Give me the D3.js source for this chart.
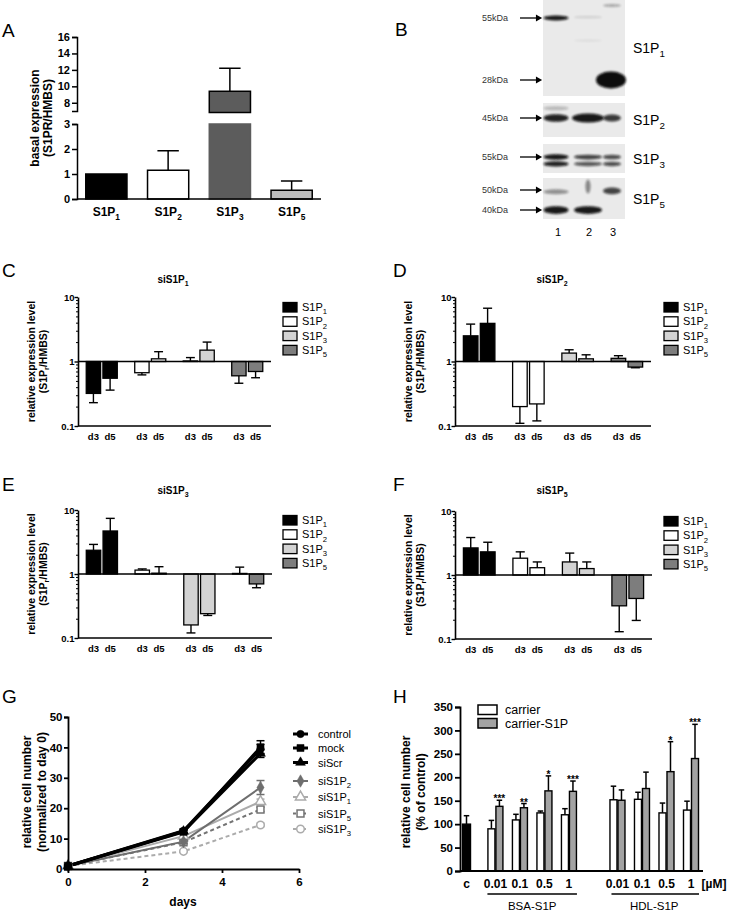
<!DOCTYPE html>
<html><head><meta charset="utf-8">
<script src="https://cdn.jsdelivr.net/npm/d3@7"></script>
<style>body{margin:0;background:#fff}svg{display:block}</style>
</head><body>
<svg id="fig" width="729" height="911"></svg>
<script>
// ---------------- DATA ----------------
// Panel A
const basalReceptors = ["1", "2", "3", "5"];
const basalMean = [1.0, 1.15, 9.4, 0.35];
const basalErrTop = [1.0, 1.93, 12.2, 0.72];
const basalAxisLowTicks = [0, 1, 2, 3];
const basalAxisHighTicks = [8, 10, 12, 14, 16];

// Panel B (western blots)
const blotReceptors = ["1", "2", "3", "5"];
const blotLanes = ["1", "2", "3"];
const blotMarkers = [[55, 28], [45], [55], [50, 40]];
// [blot, lane, kDa, intensity]
const blotBands = [
  [0, "1", 55, 0.95], [0, "2", 55.5, 0.12], [0, "2", 43, 0.06], [0, "3", 63, 0.3], [0, "3", 28, 1.0],
  [1, "1", 45, 0.9], [1, "1", 50, 0.22], [1, "2", 45, 0.95], [1, "3", 45, 0.8],
  [2, "1", 55, 0.95], [2, "1", 51, 0.9], [2, "2", 55, 0.75], [2, "2", 51, 0.65], [2, "3", 55, 0.7], [2, "3", 51, 0.7],
  [3, "1", 49, 0.4], [3, "1", 40, 0.95], [3, "2", 40, 0.95], [3, "2", 52, 0.45], [3, "3", 49.5, 0.75]
];

// Panels C-F
const receptors = ["1", "2", "3", "5"];
const dayLabels = ["d3", "d5"];
const siS1P1Vals = [[0.32, 0.55], [0.67, 1.1], [1.02, 1.5], [0.6, 0.7]];
const siS1P1Errs = [[0.23, 0.36], [0.62, 1.42], [1.15, 2.0], [0.46, 0.56]];
const siS1P2Vals = [[2.5, 3.9], [0.2, 0.22], [1.35, 1.1], [1.12, 0.82]];
const siS1P2Errs = [[3.8, 6.7], [0.11, 0.12], [1.52, 1.27], [1.23, 0.8]];
const siS1P3Vals = [[2.35, 4.7], [1.15, 1.03], [0.16, 0.24], [1.02, 0.7]];
const siS1P3Errs = [[2.9, 7.4], [1.2, 1.3], [0.12, 0.225], [1.28, 0.61]];
const siS1P5Vals = [[2.65, 2.3], [1.83, 1.3], [1.6, 1.26], [0.33, 0.43]];
const siS1P5Errs = [[3.85, 3.25], [2.3, 1.6], [2.2, 1.6], [0.13, 0.195]];

// Panel G
const gDays = [0, 3, 5];
const gNames = ["control", "mock", "siScr", "siS1P_2", "siS1P_1", "siS1P_5", "siS1P_3"];
const gControl = [1, 12.6, 39.5];
const gMock = [1, 12.2, 40.0];
const gSiScr = [1, 12.4, 38.0];
const gSiS1P2 = [1, 9.0, 26.8];
const gSiS1P1 = [1, 10.8, 22.2];
const gSiS1P5 = [1, 8.8, 19.6];
const gSiS1P3 = [1, 5.8, 14.5];
const gSdControl = [0.2, 0.6, 1.5];
const gSdMock = [0.2, 0.5, 2.2];
const gSdSiScr = [0.2, 0.5, 1.3];
const gSdSiS1P2 = [0.2, 0.6, 2.3];
const gSdSiS1P1 = [0.2, 0.5, 0.8];
const gSdSiS1P5 = [0.2, 0.5, 0.7];
const gSdSiS1P3 = [0.2, 0.4, 0.6];
const gXTicks = [0, 2, 4, 6];
const gYTicks = [0, 10, 20, 30, 40, 50];

// Panel H
const hConc = ["0.01", "0.1", "0.5", "1"];
const hControl = 100, hControlErr = 118;
const bsaCarrier = [90, 109, 124, 120];
const bsaCarrierErr = [108, 121, 128, 133];
const bsaS1P = [138, 135, 171, 170];
const bsaS1PErr = [151, 144, 203, 192];
const hdlCarrier = [152, 153, 124, 130];
const hdlCarrierErr = [181, 168, 145, 149];
const hdlS1P = [151, 176, 212, 240];
const hdlS1PErr = [173, 211, 276, 313];
const bsaSig = ["***", "**", "*", "***"];
const hdlSig = ["", "", "*", "***"];
const hYTicks = [0, 50, 100, 150, 200, 250, 300, 350];

// ---------------- HELPERS ----------------
const FONT = '"Liberation Sans", Arial, Helvetica, sans-serif';
const svg = d3.select("#fig");
svg.append("rect").attr("width", 729).attr("height", 911).attr("fill", "#fff");

function rich(sel, str, fs) {
  const re = /_\{([^}]*)\}|_(.)/g;
  let last = 0, m, shifted = false;
  while ((m = re.exec(str))) {
    if (m.index > last) {
      const t = sel.append("tspan").text(str.slice(last, m.index));
      if (shifted) { t.attr("dy", -0.3 * fs); shifted = false; }
    }
    sel.append("tspan").attr("dy", 0.3 * fs).attr("font-size", 0.7 * fs).text(m[1] || m[2]);
    shifted = true;
    last = re.lastIndex;
  }
  if (last < str.length) {
    const t = sel.append("tspan").text(str.slice(last));
    if (shifted) t.attr("dy", -0.3 * fs);
  }
  return sel;
}
function text(g, x, y, str, fs, opts = {}) {
  const t = g.append("text").attr("x", x).attr("y", y)
    .attr("font-family", FONT).attr("font-size", fs)
    .attr("font-weight", opts.weight || "normal")
    .attr("text-anchor", opts.anchor || "start")
    .attr("fill", opts.fill || "#000");
  if (opts.rotate) t.attr("transform", `rotate(-90,${x},${y})`);
  if (opts.baseline) t.attr("dominant-baseline", opts.baseline);
  rich(t, str, fs);
  return t;
}
function styleAxis(g, fs, weight, sw = 1.5) {
  g.attr("font-family", FONT).attr("font-size", fs).attr("font-weight", weight);
  g.selectAll(".domain, .tick line").attr("stroke", "#000").attr("stroke-width", sw);
  g.selectAll(".tick text").attr("fill", "#000");
}
function hline(g, x1, x2, y, sw = 1.5) {
  g.append("line").attr("x1", x1).attr("x2", x2).attr("y1", y).attr("y2", y).attr("stroke", "#000").attr("stroke-width", sw);
}
function errBar(g, cx, y1, y2, cap, sw = 1.5) {
  g.append("line").attr("x1", cx).attr("x2", cx).attr("y1", y1).attr("y2", y2).attr("stroke", "#000").attr("stroke-width", sw);
  g.append("line").attr("x1", cx - cap / 2).attr("x2", cx + cap / 2).attr("y1", y2).attr("y2", y2).attr("stroke", "#000").attr("stroke-width", sw);
}

// Panel letters
[["A", 2, 37], ["B", 395, 36], ["C", 2, 277], ["D", 393, 277], ["E", 2, 491], ["F", 393, 491], ["G", 2, 703], ["H", 393, 703]]
  .forEach(([l, x, y]) => text(svg, x, y, l, 19));

// ---------------- PANEL A ----------------
(function () {
  const g = svg.append("g");
  const x0 = 77, x1 = 321;
  const xA = d3.scaleBand().domain(basalReceptors).range([x0, x1]).paddingInner(0.333).paddingOuter(0.142);
  const yLow = d3.scaleLinear().domain([0, 3]).range([199, 124]);
  const yHigh = d3.scaleLinear().domain([7, 16]).range([111, 37]);
  const fills = ["#000", "#fff", "#5c5c5c", "#bcbcbc"];
  const yv = v => v <= 3 ? yLow(v) : yHigh(v);
  basalReceptors.forEach((r, i) => {
    const v = basalMean[i], e = basalErrTop[i];
    const x = xA(r), w = xA.bandwidth(), cx = x + w / 2;
    if (e > v) errBar(g, cx, yv(v), yv(e), w * 0.52);
    if (v <= 3) {
      g.append("rect").attr("x", x).attr("y", yLow(v)).attr("width", w).attr("height", yLow(0) - yLow(v))
        .attr("fill", fills[i]).attr("stroke", "#000").attr("stroke-width", 1.5);
    } else {
      g.append("rect").attr("x", x).attr("y", yLow(3)).attr("width", w).attr("height", yLow(0) - yLow(3))
        .attr("fill", fills[i]).attr("stroke", fills[i]).attr("stroke-width", 1.5);
      g.append("rect").attr("x", x).attr("y", yHigh(v)).attr("width", w).attr("height", yHigh(7) - yHigh(v) + 1.5)
        .attr("fill", fills[i]).attr("stroke", "#000").attr("stroke-width", 1.5);
    }
    text(g, cx, 216, "S1P_" + r, 12, { weight: "bold", anchor: "middle" });
  });
  const a1 = g.append("g").attr("transform", `translate(${x0},0)`)
    .call(d3.axisLeft(yLow).tickValues(basalAxisLowTicks).tickSize(5).tickSizeOuter(5).tickPadding(2).tickFormat(d3.format("d")));
  styleAxis(a1, 11, "bold");
  const a2 = g.append("g").attr("transform", `translate(${x0},0)`)
    .call(d3.axisLeft(yHigh).tickValues(basalAxisHighTicks).tickSize(5).tickSizeOuter(5).tickPadding(2).tickFormat(d3.format("d")));
  styleAxis(a2, 11, "bold");
  hline(g, x0, x1, yLow(0));
  text(g, 35, 118, "basal expression", 12, { weight: "bold", anchor: "middle", rotate: true, baseline: "central" });
  text(g, 48, 118, "(S1PR/HMBS)", 12, { weight: "bold", anchor: "middle", rotate: true, baseline: "central" });
})();

// ---------------- PANEL B ----------------
(function () {
  const g = svg.append("g");
  const defs = svg.append("defs");
  defs.append("filter").attr("id", "blur").attr("x", "-50%").attr("y", "-100%").attr("width", "200%").attr("height", "300%")
    .append("feGaussianBlur").attr("stdDeviation", 1.1);
  const frames = [[0, 96], [103, 137], [144, 173], [178, 219]];
  const anchors = [[18, 80], [118], [157], [190, 210]];
  const pxPerDecade = 211.6;
  const bx0 = 543, bx1 = 625;
  const laneX = d3.scaleOrdinal().domain(blotLanes).range([556, 588, 612]);
  const laneW = { "1": 25, "2": 28, "3": 18 };
  const scales = blotMarkers.map((mk, i) => {
    if (mk.length === 2) return d3.scaleLog().domain(mk).range(anchors[i]);
    return d3.scaleLog().domain([mk[0], mk[0] / 10]).range([anchors[i][0], anchors[i][0] + pxPerDecade]);
  });
  blotReceptors.forEach((r, i) => {
    const [t, b] = frames[i];
    g.append("rect").attr("x", bx0).attr("y", t).attr("width", bx1 - bx0).attr("height", b - t).attr("fill", "#eaeaea");
    blotMarkers[i].forEach(k => {
      const y = scales[i](k);
      text(g, 508, y + 3, k + "kDa", 9, { anchor: "end", fill: "#333" });
      g.append("line").attr("x1", 520).attr("x2", 536).attr("y1", y).attr("y2", y).attr("stroke", "#000").attr("stroke-width", 1.3);
      g.append("path").attr("d", d3.symbol().type(d3.symbolTriangle).size(22)())
        .attr("transform", `translate(538,${y}) rotate(90)`).attr("fill", "#000");
    });
    text(g, 633, (t + b) / 2 + 5, "S1P_" + r, 14);
  });
  blotBands.forEach(([bi, lane, kda, inten]) => {
    const y = scales[bi](kda);
    const big = bi === 0 && kda === 28;
    const smear = bi === 3 && lane === "2" && kda === 52;
    let w = laneW[lane], h = 3 + 5 * inten;
    if (bi === 0 && kda !== 28) h = 2 + 3 * inten;
    if (bi === 1 && lane === "2") { w = 32; h = 9; }
    if (bi === 2) h = 2.5 + 3 * inten;
    if (big) { w = 30; h = 17; }
    if (smear) { w = 5; h = 14; }
    g.append("ellipse").attr("cx", big ? 611 : laneX(lane)).attr("cy", y).attr("rx", w / 2).attr("ry", h / 2)
      .attr("fill", "#0a0a0a").attr("opacity", Math.min(1, inten)).attr("filter", "url(#blur)");
  });
  blotLanes.forEach(l => text(g, laneX(l) + (l === "1" ? 2 : 1), 236, l, 11, { anchor: "middle" }));
})();

// ---------------- PANELS C-F ----------------
const exprFills = ["#000", "#fff", "#d3d3d3", "#7d7d7d"];
function exprPanel(o) {
  const g = svg.append("g");
  const y = d3.scaleLog().domain([0.1, 10]).range([o.yBot, o.yTop]);
  const xg = d3.scaleBand().domain(receptors).range([o.x0, o.x1]).paddingInner(0.36).paddingOuter(0.17);
  const xd = d3.scaleBand().domain(dayLabels).range([0, xg.bandwidth()]).paddingInner(0.14);
  const isMajor = d => Math.abs(Math.log10(d) - Math.round(Math.log10(d))) < 1e-6;
  receptors.forEach((r, i) => {
    dayLabels.forEach((d, j) => {
      const v = o.vals[i][j], e = o.errs[i][j];
      const x = xg(r) + xd(d), w = xd.bandwidth(), cx = x + w / 2;
      errBar(g, cx, y(v), y(e), w * 0.62, 1.4);
      g.append("rect").attr("x", x).attr("y", Math.min(y(v), y(1))).attr("width", w)
        .attr("height", Math.abs(y(v) - y(1))).attr("fill", exprFills[i]).attr("stroke", "#000").attr("stroke-width", 1.3);
      text(g, cx, o.yBot + 14, d, 9.5, { weight: "bold", anchor: "middle" });
    });
  });
  hline(g, o.x0, o.x1, y(1), 1.6);
  hline(g, o.x0, o.x1, y(0.1), 1.6);
  const ax = g.append("g").attr("transform", `translate(${o.x0},0)`)
    .call(d3.axisLeft(y).tickValues(y.ticks()).tickSize(3).tickSizeOuter(0).tickPadding(0.5)
      .tickFormat(d => isMajor(d) ? (d >= 1 ? d3.format("d")(d) : "0.1") : ""));
  styleAxis(ax, 9.5, "bold", 1.6);
  ax.selectAll(".tick line").attr("x2", d => isMajor(d) ? -3.5 : -2).attr("stroke-width", d => isMajor(d) ? 1.4 : 1);
  const cyl = (o.yTop + o.yBot) / 2;
  text(g, o.x0 - 47, cyl, "relative expression level", 10.5, { weight: "bold", anchor: "middle", rotate: true, baseline: "central" });
  text(g, o.x0 - 35, cyl, "(S1P_r/HMBS)", 10.5, { weight: "bold", anchor: "middle", rotate: true, baseline: "central" });
  text(g, o.titleX, o.titleY, o.title, 10, { weight: "bold", anchor: "middle" });
  receptors.forEach((r, i) => {
    const ty = o.yTop + 5.5 + i * 14.3;
    g.append("rect").attr("x", o.legX).attr("y", ty).attr("width", 14).attr("height", 9.5)
      .attr("fill", exprFills[i]).attr("stroke", "#000").attr("stroke-width", 1.3);
    text(g, o.legX + 19, ty + 8.5, "S1P_" + r, 11);
  });
}
exprPanel({ x0: 78, x1: 271, yTop: 297, yBot: 426, vals: siS1P1Vals, errs: siS1P1Errs, title: "siS1P_1", titleX: 173, titleY: 283, legX: 283 });
exprPanel({ x0: 455, x1: 651, yTop: 297, yBot: 426, vals: siS1P2Vals, errs: siS1P2Errs, title: "siS1P_2", titleX: 552, titleY: 283, legX: 664 });
exprPanel({ x0: 78, x1: 272, yTop: 510, yBot: 638, vals: siS1P3Vals, errs: siS1P3Errs, title: "siS1P_3", titleX: 173, titleY: 494, legX: 283 });
exprPanel({ x0: 455, x1: 652, yTop: 511, yBot: 639, vals: siS1P5Vals, errs: siS1P5Errs, title: "siS1P_5", titleX: 552, titleY: 494, legX: 664 });

// ---------------- PANEL G ----------------
(function () {
  const g = svg.append("g");
  const xG = d3.scaleLinear().domain([0, 6]).range([68, 299]);
  const yG = d3.scaleLinear().domain([0, 50]).range([869, 717]);
  const series = [gControl, gMock, gSiScr, gSiS1P2, gSiS1P1, gSiS1P5, gSiS1P3];
  const sds = [gSdControl, gSdMock, gSdSiScr, gSdSiS1P2, gSdSiS1P1, gSdSiS1P5, gSdSiS1P3];
  const styles = [
    { c: "#000", w: 3, dash: null, sym: d3.symbolCircle, size: 42, fill: "#000" },
    { c: "#000", w: 3, dash: null, sym: d3.symbolSquare, size: 50, fill: "#000" },
    { c: "#000", w: 3, dash: null, sym: d3.symbolTriangle, size: 42, fill: "#000" },
    { c: "#6e6e6e", w: 2, dash: null, sym: d3.symbolDiamond, size: 45, fill: "#6e6e6e" },
    { c: "#ababab", w: 2, dash: null, sym: d3.symbolTriangle, size: 45, fill: "#fff" },
    { c: "#737373", w: 2, dash: "4,3", sym: d3.symbolSquare, size: 48, fill: "#fff" },
    { c: "#ababab", w: 2, dash: "4,3", sym: d3.symbolCircle, size: 45, fill: "#fff" }
  ];
  const line = d3.line().x((d, i) => xG(gDays[i])).y(d => yG(d));
  const order = [6, 5, 4, 3, 2, 1, 0];
  order.forEach(k => {
    const s = styles[k];
    g.append("path").attr("d", line(series[k])).attr("fill", "none").attr("stroke", s.c).attr("stroke-width", s.w)
      .attr("stroke-dasharray", s.dash);
  });
  order.forEach(k => {
    const s = styles[k];
    series[k].forEach((v, i) => {
      const cx = xG(gDays[i]);
      const sd = sds[k][i];
      [v + sd, v - sd].forEach(e => {
        g.append("line").attr("x1", cx).attr("x2", cx).attr("y1", yG(v)).attr("y2", yG(e)).attr("stroke", s.c).attr("stroke-width", 1.5);
        g.append("line").attr("x1", cx - 4).attr("x2", cx + 4).attr("y1", yG(e)).attr("y2", yG(e)).attr("stroke", s.c).attr("stroke-width", 1.5);
      });
      g.append("path").attr("d", d3.symbol().type(s.sym).size(s.size)()).attr("transform", `translate(${cx},${yG(v)})`)
        .attr("fill", s.fill).attr("stroke", s.c).attr("stroke-width", s.fill === "#fff" ? 1.5 : 0.5);
    });
  });
  const ay = g.append("g").attr("transform", "translate(68,0)")
    .call(d3.axisLeft(yG).tickValues(gYTicks).tickSize(4).tickSizeOuter(4).tickPadding(1.5).tickFormat(d3.format("d")));
  styleAxis(ay, 11.5, "bold", 1.8);
  const ax = g.append("g").attr("transform", "translate(0,869)")
    .call(d3.axisBottom(xG).tickValues(gXTicks).tickSize(4).tickSizeOuter(0).tickPadding(5).tickFormat(d3.format("d")));
  styleAxis(ax, 11.5, "bold", 1.8);
  text(g, 183, 906, "days", 12, { weight: "bold", anchor: "middle" });
  text(g, 27, 792, "relative cell number", 12, { weight: "bold", anchor: "middle", rotate: true, baseline: "central" });
  text(g, 42, 792, "(normalized to day 0)", 12, { weight: "bold", anchor: "middle", rotate: true, baseline: "central" });
  const legY = [734, 748, 762.5, 781, 797, 813.5, 829];
  gNames.forEach((n, k) => {
    const s = styles[k], ly = legY[k];
    g.append("line").attr("x1", 293).attr("x2", 308).attr("y1", ly).attr("y2", ly).attr("stroke", s.c).attr("stroke-width", s.w)
      .attr("stroke-dasharray", s.dash ? "3,2" : null);
    g.append("path").attr("d", d3.symbol().type(s.sym).size(s.size)()).attr("transform", `translate(300.5,${ly})`)
      .attr("fill", s.fill).attr("stroke", s.c).attr("stroke-width", s.fill === "#fff" ? 1.5 : 0.5);
    text(g, 318, ly + 4, n, 11);
  });
})();

// ---------------- PANEL H ----------------
(function () {
  const g = svg.append("g");
  const yH = d3.scaleLinear().domain([0, 350]).range([871, 707]);
  // slot positions: control, BSA group, HDL group
  const slot = d3.scaleLinear().domain([0, 9.16]).range([466.5, 691]);
  const bsaPos = hConc.map((c, i) => 1.18 + i);
  const hdlPos = hConc.map((c, i) => 6.16 + i);
  const bw = 7;
  const grayFill = "#a3a3a3";
  function bar(x, v, e, fill, w) {
    errBar(g, x + w / 2, yH(v), yH(e), 5.5, 1.5);
    g.append("rect").attr("x", x).attr("y", yH(v)).attr("width", w).attr("height", yH(0) - yH(v))
      .attr("fill", fill).attr("stroke", "#000").attr("stroke-width", 1.4);
  }
  bar(slot(0) - 4, hControl, hControlErr, "#000", 8);
  text(g, slot(0), 888, "c", 12, { weight: "bold", anchor: "middle" });
  function group(pos, carr, carrE, s1p, s1pE, sig) {
    hConc.forEach((c, i) => {
      const cx = slot(pos[i]);
      bar(cx - 0.5 - bw, carr[i], carrE[i], "#fff", bw);
      bar(cx + 0.5, s1p[i], s1pE[i], grayFill, bw);
      if (sig[i]) text(g, cx + 0.5 + bw / 2, yH(s1pE[i]) + 2, sig[i], 10, { weight: "bold", anchor: "middle" });
      text(g, cx, 888, c, 12, { weight: "bold", anchor: "middle" });
    });
  }
  group(bsaPos, bsaCarrier, bsaCarrierErr, bsaS1P, bsaS1PErr, bsaSig);
  group(hdlPos, hdlCarrier, hdlCarrierErr, hdlS1P, hdlS1PErr, hdlSig);
  hline(g, 460, 703, yH(0), 1.8);
  const ay = g.append("g").attr("transform", "translate(460,0)")
    .call(d3.axisLeft(yH).tickValues(hYTicks).tickSize(5).tickSizeOuter(5).tickPadding(2).tickFormat(d3.format("d")));
  styleAxis(ay, 11.5, "bold", 1.8);
  text(g, 714, 888, "[µM]", 12, { weight: "bold", anchor: "middle" });
  hline(g, slot(bsaPos[0]) - 8, slot(bsaPos[3]) + 8, 894, 1.4);
  hline(g, slot(hdlPos[0]) - 6, slot(hdlPos[3]) + 8, 894, 1.4);
  text(g, (slot(bsaPos[0]) + slot(bsaPos[3])) / 2, 910, "BSA-S1P", 11.5, { anchor: "middle" });
  text(g, (slot(hdlPos[0]) + slot(hdlPos[3])) / 2, 910, "HDL-S1P", 11.5, { anchor: "middle" });
  text(g, 406, 792, "relative cell number", 12, { weight: "bold", anchor: "middle", rotate: true, baseline: "central" });
  text(g, 421, 792, "(% of control)", 12, { weight: "bold", anchor: "middle", rotate: true, baseline: "central" });
  [["carrier", "#fff"], ["carrier-S1P", grayFill]].forEach(([n, f], i) => {
    g.append("rect").attr("x", 478).attr("y", 705 + i * 13.5).attr("width", 19).attr("height", 9.5)
      .attr("fill", f).attr("stroke", "#000").attr("stroke-width", 1.5);
    text(g, 505, 714 + i * 13.5, n, 12.5);
  });
})();
</script>
</body></html>
